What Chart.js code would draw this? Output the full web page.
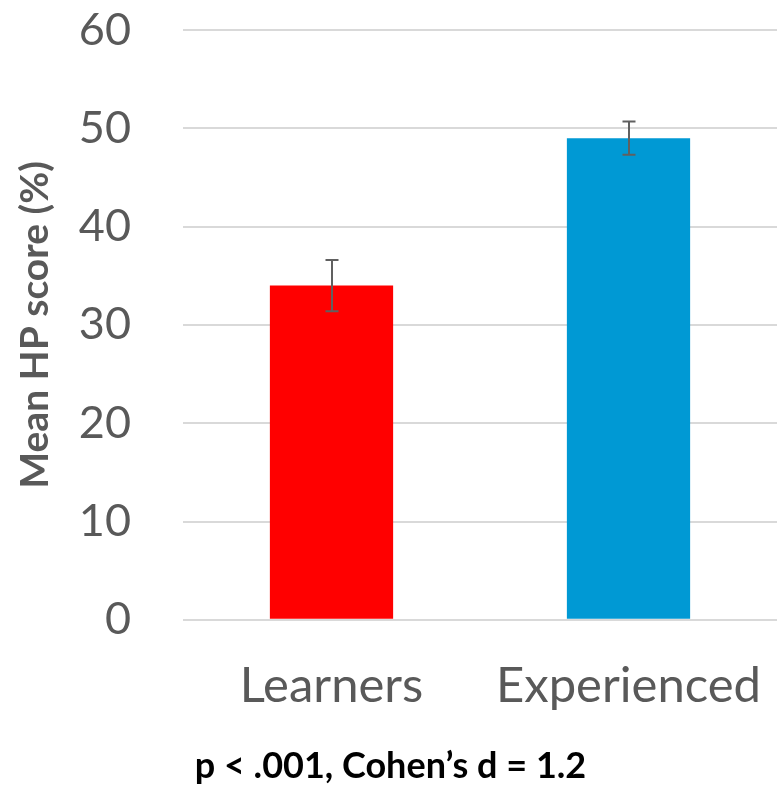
<!DOCTYPE html>
<html>
<head>
<meta charset="utf-8">
<script src="https://cdn.jsdelivr.net/npm/chart.js@4/dist/chart.umd.min.js"></script>
<style>
  html, body { margin: 0; padding: 0; background: #ffffff; }
  #wrap { width: 777px; height: 791px; }
</style>
</head>
<body>
<div id="wrap"><canvas id="c" width="777" height="791"></canvas></div>
<script>
const groups = ["Learners", "Experienced"];
const meanScores = [34.0, 49.0];
const errorMargins = [2.6, 1.7];
const barColors = ["#ff0000", "#0099d4"];
const yTicks = [0, 10, 20, 30, 40, 50, 60];

const FONT = "Lato, 'Open Sans', 'DejaVu Sans', sans-serif";

// Whiskers for each bar, positioned through the chart's own scales
const errorBarPlugin = {
  id: "errorBars",
  afterDatasetsDraw(chart) {
    const ctx = chart.ctx;
    const xs = chart.scales.x, ys = chart.scales.y;
    ctx.save();
    ctx.strokeStyle = "#606060";
    ctx.lineWidth = 2;
    meanScores.forEach((m, i) => {
      const x = Math.round(xs.getPixelForValue(i));
      const yTop = ys.getPixelForValue(m + errorMargins[i]);
      const yBot = ys.getPixelForValue(m - errorMargins[i]);
      const cap = 6.5;
      ctx.beginPath();
      ctx.moveTo(x, yTop); ctx.lineTo(x, yBot);
      ctx.moveTo(x - cap, yTop); ctx.lineTo(x + cap, yTop);
      ctx.moveTo(x - cap, yBot); ctx.lineTo(x + cap, yBot);
      ctx.stroke();
    });
    ctx.restore();
  }
};

new Chart(document.getElementById("c"), {
  type: "bar",
  data: {
    labels: groups,
    datasets: [{
      data: meanScores,
      backgroundColor: barColors,
      borderWidth: 0,
      barPercentage: 0.415,
      categoryPercentage: 1.0
    }]
  },
  options: {
    responsive: false,
    animation: false,
    devicePixelRatio: 1,
    layout: { padding: { top: 30, right: -4, bottom: 0, left: 0 } },
    plugins: {
      legend: { display: false },
      tooltip: { enabled: false },
      title: {
        display: true,
        position: "bottom",
        text: "p < .001, Cohen\u2019s d = 1.2",
        color: "#000000",
        font: { family: FONT, size: 36, weight: "bold" },
        padding: { top: 15, bottom: 3 }
      }
    },
    scales: {
      x: {
        grid: { display: false },
        border: { display: false },
        ticks: {
          color: "#595959",
          font: { family: FONT, size: 49 },
          padding: 29,
          maxRotation: 0
        },
        afterFit(axis) {
          axis.height = 110;
          axis.paddingLeft = 0;
          axis.paddingRight = 0;
        }
      },
      y: {
        min: 0,
        max: 60,
        afterBuildTicks(axis) { axis.ticks = yTicks.map(v => ({ value: v })); },
        grid: { color: "#d9d9d9", lineWidth: 2, drawTicks: false },
        border: { display: false },
        ticks: {
          color: "#595959",
          font: { family: FONT, size: 45 },
          padding: 52
        },
        title: {
          display: true,
          text: "Mean HP score (%)",
          color: "#595959",
          font: { family: FONT, size: 39, weight: "bold" },
          padding: { top: 12, bottom: 0 }
        },
        afterFit(axis) {
          axis.width = 183;
          axis.paddingTop = 0;
          axis.paddingBottom = 0;
        }
      }
    }
  },
  plugins: [errorBarPlugin]
});
</script>
</body>
</html>
